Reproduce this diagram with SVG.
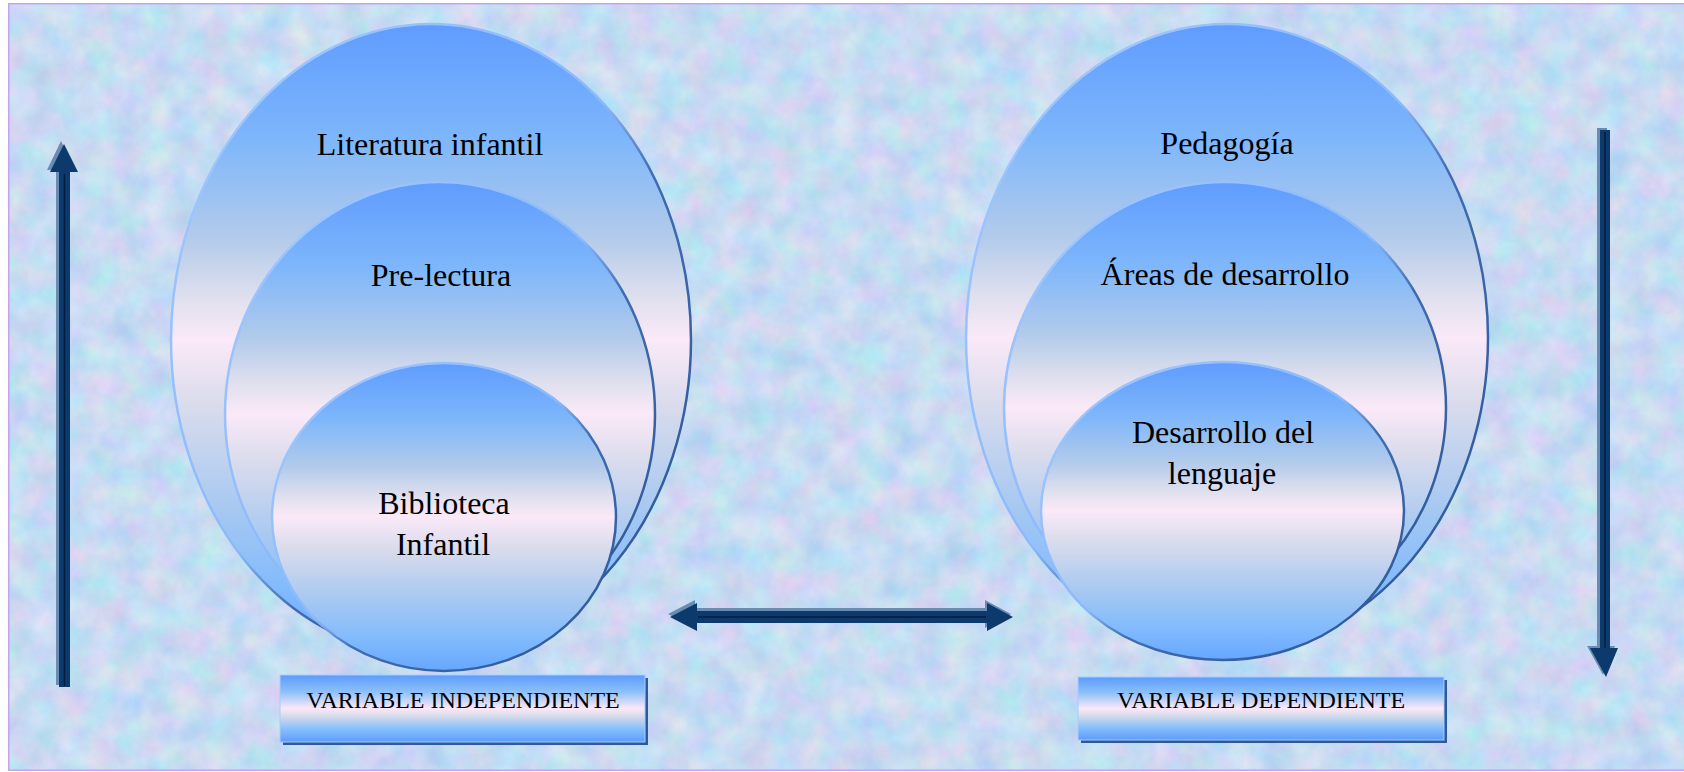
<svg xmlns="http://www.w3.org/2000/svg" width="1684" height="772" viewBox="0 0 1684 772">
<style>
.lbl{font-family:"Liberation Serif","Times New Roman",serif;font-size:32px;fill:#000;text-anchor:middle}
.var{font-family:"Liberation Serif","Times New Roman",serif;font-size:24px;fill:#000;text-anchor:middle}
.ell{fill:url(#gEll);stroke:url(#gStroke);stroke-width:2.5}
.box{fill:url(#gBox);stroke:#a8ccfb;stroke-width:1}
.boxsh{fill:#2d5a9c}
.arr{fill:#0c3a6c}
.arrsh{fill:#6b8cb2}
.arrln{stroke:#031d40;stroke-width:1.5;fill:none}
</style>
<defs>
<filter id="tex" x="0" y="0" width="100%" height="100%" color-interpolation-filters="sRGB">
<feTurbulence type="fractalNoise" baseFrequency="0.035" numOctaves="4" seed="7" result="n"/>
<feColorMatrix in="n" type="matrix" values="0.28 0 0 0 0.64  0 0.16 0 0 0.78  0 0 0.08 0 0.91  0 0 0 0 1"/>
</filter>
<linearGradient id="gEll" x1="0" y1="0" x2="0" y2="1">
<stop offset="0" stop-color="#5f9cff"/>
<stop offset="0.18" stop-color="#7db6fb"/>
<stop offset="0.34" stop-color="#b3cbea"/>
<stop offset="0.44" stop-color="#e2e1ef"/>
<stop offset="0.5" stop-color="#fbe9f8"/>
<stop offset="0.6" stop-color="#dadcec"/>
<stop offset="0.78" stop-color="#a3c7f2"/>
<stop offset="0.9" stop-color="#80bafd"/>
<stop offset="1" stop-color="#66a6ff"/>
</linearGradient>
<linearGradient id="gStroke" x1="0" y1="0" x2="1" y2="1">
<stop offset="0" stop-color="#a4c9ff"/>
<stop offset="0.48" stop-color="#8cb9fa"/>
<stop offset="0.58" stop-color="#3f6cb0"/>
<stop offset="1" stop-color="#2a5596"/>
</linearGradient>
<linearGradient id="gBox" x1="0" y1="0" x2="0" y2="1">
<stop offset="0" stop-color="#5c9bff"/>
<stop offset="0.25" stop-color="#8cc0f8"/>
<stop offset="0.5" stop-color="#fce8f8"/>
<stop offset="0.62" stop-color="#d4dae9"/>
<stop offset="0.8" stop-color="#88c0fb"/>
<stop offset="1" stop-color="#5c9cff"/>
</linearGradient>
</defs>

<rect x="0" y="0" width="1684" height="772" fill="#ffffff"/>
<rect x="8" y="3" width="1676" height="768" filter="url(#tex)"/>
<rect x="8.75" y="3.75" width="1680" height="766.5" fill="none" stroke="#c7a2ee" stroke-width="1.5"/>

<g id="node-literatura">
<ellipse class="ell" cx="431" cy="340" rx="260" ry="316"/>
<text class="lbl" x="430" y="155">Literatura infantil</text>
</g>
<g id="node-prelectura">
<ellipse class="ell" cx="440" cy="414" rx="215" ry="232"/>
<text class="lbl" x="441" y="286">Pre-lectura</text>
</g>
<g id="node-biblioteca">
<ellipse class="ell" cx="444" cy="517" rx="172" ry="154"/>
<text class="lbl" x="444" y="514">Biblioteca</text>
<text class="lbl" x="443" y="555">Infantil</text>
</g>

<g id="node-pedagogia">
<ellipse class="ell" cx="1227" cy="338" rx="261" ry="314"/>
<text class="lbl" x="1227" y="154">Pedagogía</text>
</g>
<g id="node-areas">
<ellipse class="ell" cx="1225" cy="408" rx="221" ry="226"/>
<text class="lbl" x="1225" y="285">Áreas de desarrollo</text>
</g>
<g id="node-lenguaje">
<ellipse class="ell" cx="1222.5" cy="511" rx="181.5" ry="149"/>
<text class="lbl" x="1223" y="443">Desarrollo del</text>
<text class="lbl" x="1222" y="484">lenguaje</text>
</g>

<g id="node-var-indep">
<rect class="boxsh" x="283" y="678" width="365" height="67"/>
<rect class="box" x="280" y="675" width="365" height="67"/>
<text class="var" x="463" y="708">VARIABLE INDEPENDIENTE</text>
</g>
<g id="node-var-dep">
<rect class="boxsh" x="1081" y="680" width="366" height="63"/>
<rect class="box" x="1078" y="677" width="366" height="63"/>
<text class="var" x="1261" y="708">VARIABLE DEPENDIENTE</text>
</g>

<g id="connectors">
<g id="arrow-up">
<polygon class="arrsh" points="61,141 75,170 67,170 67,685 56,685 56,170 47,170"/>
<polygon class="arr" points="64,144 78,172 70,172 70,687 59,687 59,172 50,172"/>
<line class="arrln" x1="64.5" y1="174" x2="64.5" y2="686"/>
</g>
<g id="arrow-down">
<polygon class="arrsh" points="1597,128 1607,128 1607,646 1615,646 1603,675 1587,646 1597,646"/>
<polygon class="arr" points="1600,130 1610,130 1610,648 1618,648 1606,677 1590,648 1600,648"/>
<line class="arrln" x1="1605" y1="132" x2="1605" y2="648"/>
</g>
<g id="arrow-both">
<polygon class="arrsh" points="668,614 695,600 695,608 985,608 985,600 1011,614 985,628 985,620 695,620 695,628"/>
<polygon class="arr" points="670,617 697,603 697,611 987,611 987,603 1013,617 987,631 987,623 697,623 697,631"/>
<line class="arrln" x1="698" y1="617" x2="986" y2="617"/>
</g>
</g>
</svg>
